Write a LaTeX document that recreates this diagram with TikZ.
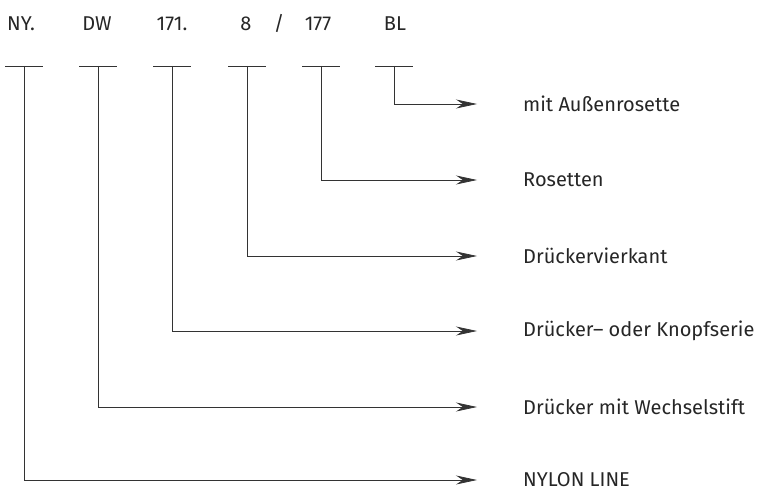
\documentclass[tikz,border=0pt]{standalone}
\usepackage{fontspec}
\setmainfont{Fira Sans}
\usetikzlibrary{positioning}
\usetikzlibrary{arrows.meta}

\begin{document}
\begin{tikzpicture}[
	  x=1pt, y=-1pt,
	  every node/.style = {font=\fontsize{20}{24}\selectfont, text=black!85, inner sep=3pt},
	  code/.style = {anchor=base},
	  label/.style = {anchor=west},
	  bar/.style = {line width=0.75pt, draw=black!80},
	  arr/.style = {line width=0.75pt, draw=black!80, -{Stealth[length=21pt,width=9pt]}, shorten >=43pt}
	]
	  \useasboundingbox (0,0) rectangle (765,492);

	  % code on top
	  \node[code] (ny)  at (21,31)  {NY.};
	  \node[code] (dw)  at (97,31)  {DW};
	  \node[code] (ser) at (172,31) {171.};
	  \node[code] (vk)  at (246,31) {8};
	  \node[code] (sl)  at (279,31) {/};
	  \node[code] (ros) at (318,31) {177};
	  \node[code] (bl)  at (395,31) {BL};

	  % meaning on the right
	  \node[label] (lbl)  at (520,104) {mit Außenrosette};
	  \node[label] (lros) at (520,180) {Rosetten};
	  \node[label] (lvk)  at (520,256) {Drückervierkant};
	  \node[label] (lser) at (520,331) {Drücker– oder Knopfserie};
	  \node[label] (ldw)  at (520,407) {Drücker mit Wechselstift};
	  \node[label] (lny)  at (520,480) {NYLON LINE};

	  % bars under the code
	  \coordinate (bny)  at (24,66);
	  \coordinate (bdw)  at (98,66);
	  \coordinate (bser) at (172,66);
	  \coordinate (bvk)  at (247,66);
	  \coordinate (bros) at (321,66);
	  \coordinate (bbl)  at (394,66);
	  \draw[bar] ([xshift=-19pt]bny) -- ([xshift=19pt]bny);
	  \draw[bar] ([xshift=-19pt]bdw) -- ([xshift=19pt]bdw);
	  \draw[bar] ([xshift=-19pt]bser) -- ([xshift=19pt]bser);
	  \draw[bar] ([xshift=-19pt]bvk) -- ([xshift=19pt]bvk);
	  \draw[bar] ([xshift=-19pt]bros) -- ([xshift=19pt]bros);
	  \draw[bar] ([xshift=-19pt]bbl) -- ([xshift=19pt]bbl);

	  % arrows
	  \draw[arr] (bbl) |- (lbl);
	  \draw[arr] (bros) |- (lros);
	  \draw[arr] (bvk) |- (lvk);
	  \draw[arr] (bser) |- (lser);
	  \draw[arr] (bdw) |- (ldw);
	  \draw[arr] (bny) |- (lny);
	\end{tikzpicture}
\end{document}
